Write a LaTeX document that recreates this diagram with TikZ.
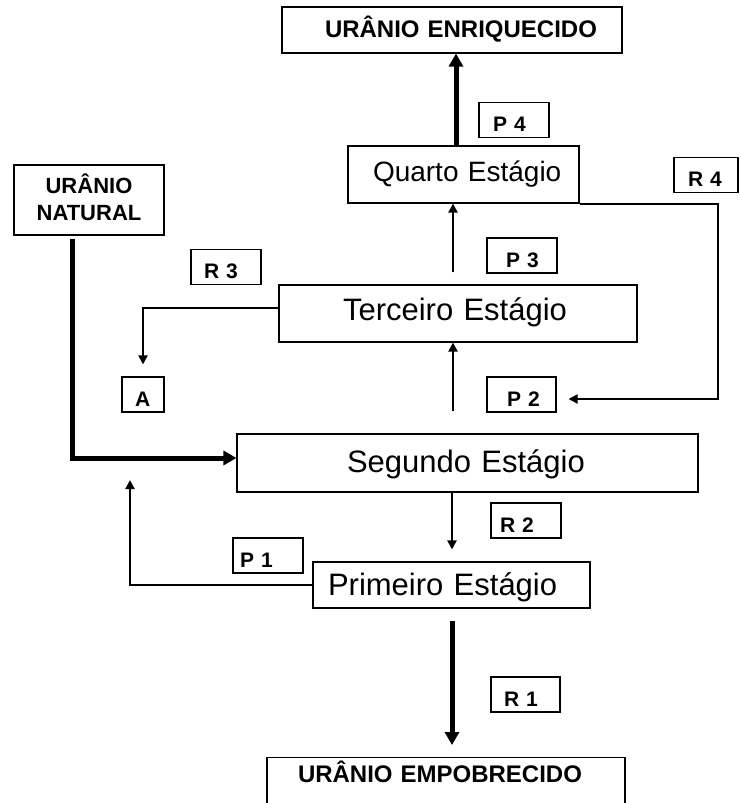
\documentclass[tikz,border=0pt]{standalone}
\usepackage{fontspec}
\setmainfont{Liberation Sans}
\usetikzlibrary{arrows.meta}
\begin{document}
\begin{tikzpicture}[x=1pt,y=-1pt,
  stagebox/.style={draw, line width=1.1pt, inner sep=0pt, align=left,
    font=\fontsize{31}{37}\selectfont, text height=22.2pt},
  lbl/.style 2 args={draw, line width=1.1pt, inner ysep=0pt, inner xsep=#1,
    text width=#2, align=left, minimum height=35pt,
    font=\bfseries\fontsize{21}{25}\selectfont, text height=23pt, text depth=0pt},
  thinarrow/.style={line width=2pt, -{Triangle[length=9pt,width=9pt]}},
  thickarrow/.style={line width=5pt, -{Triangle[length=13pt,width=14pt]}}
]
\useasboundingbox (0,0) rectangle (740,803);
\clip (0,0) rectangle (740,803);

% main boxes
\node[stagebox, font=\bfseries\fontsize{24}{29}\selectfont, text height=17.2pt, text depth=2pt,
  inner xsep=43pt, text width=254pt, minimum height=46pt] (enr) at (452,30) {\mbox{URÂNIO ENRIQUECIDO}};
\node[stagebox, font=\fontsize{28}{34}\selectfont, text height=20pt, text depth=6pt,
  inner xsep=25pt, text width=181pt, minimum height=57pt] (quarto) at (463.5,174.5) {\mbox{Quarto Estágio}};
\node[stagebox, text depth=8pt, inner xsep=64pt, text width=230pt, minimum height=57pt]
  (terceiro) at (458,313.5) {\mbox{Terceiro Estágio}};
\node[stagebox, text depth=3pt, inner xsep=110pt, text width=241pt, minimum height=58pt]
  (segundo) at (467.5,463) {\mbox{Segundo Estágio}};
\node[stagebox, text depth=1pt, inner xsep=15pt, text width=247pt, minimum height=46pt]
  (primeiro) at (451.5,585) {\mbox{Primeiro Estágio}};
\node[stagebox, anchor=north, font=\bfseries\fontsize{24}{29}\selectfont, text height=24.6pt, text depth=40pt,
  inner xsep=31pt, text width=296pt] (empob) at (446,757) {\mbox{URÂNIO EMPOBRECIDO}};
\node[draw, line width=1.1pt, inner sep=0pt, align=center, minimum width=150pt, minimum height=70pt,
  font=\bfseries\fontsize{22}{27}\selectfont, text height=40pt, text depth=0pt]
  (natural) at (89,200) {URÂNIO\\NATURAL};

% label boxes
\node[lbl={14pt}{42pt}] (p4) at (514,120) {\mbox{P 4}};
\node[lbl={14pt}{36pt}] (r4) at (706,175) {\mbox{R 4}};
\node[lbl={19pt}{32pt}] (p3) at (522,255.5) {\mbox{P 3}};
\node[lbl={13pt}{44pt}] (r3) at (226,267) {\mbox{R 3}};
\node[lbl={13pt}{16pt}] (a) at (143,394.5) {\mbox{A}};
\node[lbl={20pt}{29pt}] (p2) at (521.5,394.5) {\mbox{P 2}};
\node[lbl={9pt}{52pt}] (r2) at (526,520.5) {\mbox{R 2}};
\node[lbl={7pt}{56pt}] (p1) at (268,555.5) {\mbox{P 1}};
\node[lbl={13pt}{43pt}] (r1) at (525.5,694.5) {\mbox{R 1}};

% helper coordinates
\coordinate (xa) at (456,0);
\coordinate (xb) at (453,0);
\coordinate (xc) at (452,0);
\coordinate (r4corner) at (718,399);
\coordinate (p1end) at (130,480);

% connectors
\draw[thickarrow] (quarto.north -| xa) -- (enr.south -| xa);
\draw[thinarrow, shorten <=12pt] (terceiro.north -| xb) -- (quarto.south -| xb);
\draw[thinarrow, shorten <=22pt] (segundo.north -| xb) -- (terceiro.south -| xb);
\draw[thinarrow] (quarto.south east) -| (r4corner) -- ([xshift=12pt,yshift=-4.5pt]p2.east);
\draw[thinarrow] ([yshift=5.5pt]terceiro.west) -| ([yshift=12pt]a.north);
\draw[thickarrow] ([xshift=-17pt,yshift=-3pt]natural.south) |- ([yshift=5pt]segundo.west);
\draw[thinarrow, shorten >=12pt] (segundo.south -| xc) -- (primeiro.north -| xc);
\draw[thinarrow] (primeiro.west) -| (p1end);
\draw[thickarrow, shorten <=12pt, shorten >=12pt] (primeiro.south -| xc) -- (empob.north -| xc);
\end{tikzpicture}
\end{document}
